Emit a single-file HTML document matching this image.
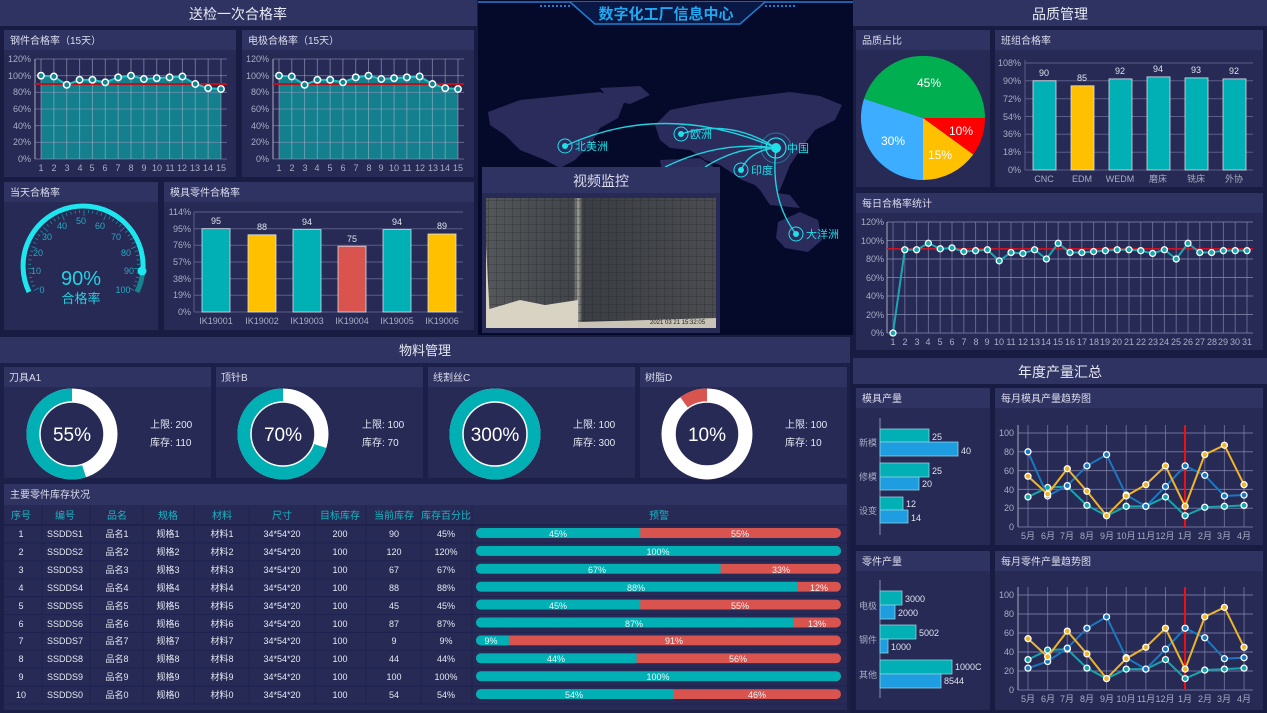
<!DOCTYPE html>
<html><head><meta charset="utf-8"><style>
html,body{margin:0;padding:0;background:#181b42;}
svg{display:block;font-family:"Liberation Sans","Noto Sans CJK SC",sans-serif;}
</style></head><body>
<svg id="s" width="1267" height="713" viewBox="0 0 1267 713" xmlns="http://www.w3.org/2000/svg">
<rect width="1267" height="713" fill="#181b42"/>
<rect x="478" y="0" width="375" height="335" fill="#060a2a"/>
<g fill="#2b2b5c">
<path d="M488,112 L520,100 L560,96 L600,92 L625,100 L618,118 L600,128 L590,145 L575,160 L560,168 L545,160 L520,150 L505,135 L490,125 Z"/>
<path d="M600,88 L640,86 L650,95 L630,104 L610,100 Z"/>
<path d="M655,125 L670,110 L700,104 L740,98 L790,92 L820,96 L842,105 L835,120 L815,130 L800,150 L790,165 L780,190 L770,200 L755,185 L742,180 L735,175 L720,165 L705,160 L690,150 L670,148 L660,140 Z"/>
<path d="M660,160 L700,158 L718,170 L712,200 L700,225 L688,235 L678,215 L665,190 Z"/>
<path d="M778,222 L800,212 L818,220 L822,240 L808,252 L785,248 L776,238 Z"/>
<path d="M760,190 L790,195 L800,208 L770,205 Z"/>
</g>
<g fill="none" stroke="#1fd4e0" stroke-width="1.4">
<path d="M565,146 Q665,100 776,148"/>
<path d="M681,134 Q730,118 776,148"/>
<path d="M665,167 Q720,140 776,148"/>
<path d="M705,167 Q740,145 776,148"/>
<path d="M741,170 Q750,150 776,148"/>
<path d="M796,234 Q770,200 776,148"/>
</g>
<g fill="#1fe0e8">
<circle cx="776" cy="148" r="5"/><circle cx="776" cy="148" r="10" fill="none" stroke="#1fe0e8" stroke-width="1.2"/><circle cx="776" cy="148" r="15" fill="none" stroke="#1fe0e8" stroke-opacity=".4"/>
<circle cx="565" cy="146" r="3"/><circle cx="565" cy="146" r="7" fill="none" stroke="#1fe0e8"/>
<circle cx="681" cy="134" r="3"/><circle cx="681" cy="134" r="7" fill="none" stroke="#1fe0e8"/>
<circle cx="741" cy="170" r="3"/><circle cx="741" cy="170" r="7" fill="none" stroke="#1fe0e8"/>
<circle cx="796" cy="234" r="3"/><circle cx="796" cy="234" r="7" fill="none" stroke="#1fe0e8"/>
</g>
<g fill="#1fe0e8" font-size="11">
<text x="575" y="150">北美洲</text><text x="690" y="138">欧洲</text><text x="787" y="152">中国</text><text x="751" y="174">印度</text><text x="806" y="238">大洋洲</text>
</g>
<path d="M478,2 L853,2" stroke="#1e5fa8" stroke-width="2"/>
<path d="M570,2 L595,24 L740,24 L765,2" fill="#0a1845" stroke="#1e7fd0" stroke-width="1.5"/>
<text x="666" y="19" text-anchor="middle" fill="#21a8f0" font-size="15" font-weight="bold">数字化工厂信息中心</text>
<path d="M540,6 L570,6 M765,6 L795,6" stroke="#1e7fd0" stroke-width="2" stroke-dasharray="2,2"/>
<rect x="482" y="167" width="238" height="166" fill="#262a55"/>
<rect x="482" y="167" width="238" height="26" fill="#2f3362"/>
<text x="601" y="186" text-anchor="middle" fill="#dde" font-size="14">视频监控</text>
<defs>
<linearGradient id="vg" x1="0" x2="1"><stop offset="0" stop-color="#55585a"/><stop offset=".38" stop-color="#414449"/><stop offset=".4" stop-color="#9a9b95"/><stop offset=".42" stop-color="#3a3d43"/><stop offset="1" stop-color="#4a4c50"/></linearGradient>
<pattern id="gp" width="8" height="8" patternUnits="userSpaceOnUse"><path d="M0,0H8M0,0V8" stroke="#25272b" stroke-width="1" fill="none"/></pattern>
</defs>
<rect x="486" y="198" width="230" height="130" fill="url(#vg)"/>
<rect x="486" y="198" width="230" height="130" fill="url(#gp)" opacity=".6"/>
<path d="M486,245 L490,320 L486,328 Z" fill="#d8d3c2"/>
<path d="M486,310 L520,300 L545,305 L578,300 L578,328 L486,328 Z" fill="#d8d3c2"/>
<path d="M578,322 L716,318 L716,328 L578,328Z" fill="#c9c4b5"/>
<text x="650" y="324" fill="#222" font-size="6">2021 03 21 15:32:05</text>

<rect x="0" y="0" width="477" height="26" fill="#2f3362"/>
<text x="238" y="19" text-anchor="middle" fill="#e6e8f2" font-size="14">送检一次合格率</text>
<rect x="4" y="30" width="232" height="147" fill="#262a55"/><rect x="4" y="30" width="232" height="20" fill="#2f3362"/>
<text x="10" y="44" fill="#dde" font-size="10">钢件合格率（15天）</text>
<rect x="242" y="30" width="232" height="147" fill="#262a55"/><rect x="242" y="30" width="232" height="20" fill="#2f3362"/>
<text x="248" y="44" fill="#dde" font-size="10">电极合格率（15天）</text>
<g id="lc1"></g><g id="lc2"></g>
<g fill="#a9adc4" font-size="9" text-anchor="end">
<text x="31" y="62">120%</text><text x="31" y="79">100%</text><text x="31" y="95">80%</text><text x="31" y="112">60%</text><text x="31" y="129">40%</text><text x="31" y="145">20%</text><text x="31" y="162">0%</text>
<text x="269" y="62">120%</text><text x="269" y="79">100%</text><text x="269" y="95">80%</text><text x="269" y="112">60%</text><text x="269" y="129">40%</text><text x="269" y="145">20%</text><text x="269" y="162">0%</text>
</g>
<g fill="#a9adc4" font-size="9" text-anchor="middle">
<text x="41" y="171">1</text><text x="54" y="171">2</text><text x="67" y="171">3</text><text x="80" y="171">4</text><text x="92" y="171">5</text><text x="105" y="171">6</text><text x="118" y="171">7</text><text x="131" y="171">8</text><text x="144" y="171">9</text><text x="157" y="171">10</text><text x="170" y="171">11</text><text x="182" y="171">12</text><text x="195" y="171">13</text><text x="208" y="171">14</text><text x="221" y="171">15</text>
<text x="279" y="171">1</text><text x="292" y="171">2</text><text x="305" y="171">3</text><text x="317" y="171">4</text><text x="330" y="171">5</text><text x="343" y="171">6</text><text x="356" y="171">7</text><text x="369" y="171">8</text><text x="381" y="171">9</text><text x="394" y="171">10</text><text x="407" y="171">11</text><text x="420" y="171">12</text><text x="433" y="171">13</text><text x="445" y="171">14</text><text x="458" y="171">15</text>
</g>
<rect x="4" y="182" width="154" height="148" fill="#262a55"/><rect x="4" y="182" width="154" height="20" fill="#2f3362"/>
<text x="10" y="196" fill="#dde" font-size="10">当天合格率</text>
<path d="M29,292 A60,60 0 1 1 143,269" fill="none" stroke="#1ee6ef" stroke-width="5"/>
<path d="M143,269 A60,60 0 0 1 137,292" fill="none" stroke="#14858f" stroke-width="5"/>
<g id="gt"></g>
<circle cx="142" cy="271" r="4.5" fill="#1ee6ef"/>
<g fill="#2aa8c0" font-size="9" text-anchor="middle">
<text x="42" y="293">0</text><text x="36" y="274">10</text><text x="38" y="256">20</text><text x="47" y="240">30</text><text x="62" y="229">40</text><text x="81" y="224">50</text><text x="100" y="229">60</text><text x="116" y="240">70</text><text x="126" y="256">80</text><text x="129" y="274">90</text><text x="123" y="293">100</text>
</g>
<text x="81" y="285" text-anchor="middle" fill="#25d0e0" font-size="20">90%</text>
<text x="81" y="303" text-anchor="middle" fill="#25d0e0" font-size="13">合格率</text>
<rect x="164" y="182" width="310" height="148" fill="#262a55"/><rect x="164" y="182" width="310" height="20" fill="#2f3362"/>
<text x="170" y="196" fill="#dde" font-size="10">模具零件合格率</text>
<g stroke="#5a5e86" stroke-width="1">
<path d="M194,212H463M194,228.7H463M194,245.3H463M194,262H463M194,278.7H463M194,295.3H463M194,312H463M194,212V312"/>
</g>
<g stroke="#d8e0ea" stroke-width=".8">
<rect x="202" y="228.7" width="28" height="83.3" fill="#00b0b4"/>
<rect x="248" y="234.8" width="28" height="77.2" fill="#ffc000"/>
<rect x="293" y="229.6" width="28" height="82.4" fill="#00b0b4"/>
<rect x="338" y="246.2" width="28" height="65.8" fill="#d9534f"/>
<rect x="383" y="229.6" width="28" height="82.4" fill="#00b0b4"/>
<rect x="428" y="234" width="28" height="78" fill="#ffc000"/>
</g>
<g fill="#e0e2ee" font-size="9" text-anchor="middle">
<text x="216" y="224">95</text><text x="262" y="230">88</text><text x="307" y="225">94</text><text x="352" y="242">75</text><text x="397" y="225">94</text><text x="442" y="229">89</text>
</g>
<g fill="#a9adc4" font-size="9">
<g text-anchor="end"><text x="191" y="215">114%</text><text x="191" y="232">95%</text><text x="191" y="248">76%</text><text x="191" y="265">57%</text><text x="191" y="282">38%</text><text x="191" y="298">19%</text><text x="191" y="315">0%</text></g>
<g text-anchor="middle"><text x="216" y="324">IK19001</text><text x="262" y="324">IK19002</text><text x="307" y="324">IK19003</text><text x="352" y="324">IK19004</text><text x="397" y="324">IK19005</text><text x="442" y="324">IK19006</text></g>
</g>

<rect x="853" y="0" width="414" height="26" fill="#2f3362"/>
<text x="1060" y="19" text-anchor="middle" fill="#e6e8f2" font-size="14">品质管理</text>
<rect x="856" y="30" width="134" height="157" fill="#262a55"/><rect x="856" y="30" width="134" height="20" fill="#2f3362"/>
<text x="862" y="44" fill="#dde" font-size="10">品质占比</text>
<path d="M923,118 L985,118 A62,62 0 0 1 973.2,154.5 Z" fill="#ff0000"/>
<path d="M923,118 L973.2,154.5 A62,62 0 0 1 923,180 Z" fill="#ffc000"/>
<path d="M923,118 L923,180 A62,62 0 0 1 864,98.8 Z" fill="#3daeff"/>
<path d="M923,118 L864,98.8 A62,62 0 0 1 985,118 Z" fill="#00b050"/>
<g fill="#fff" font-size="12" text-anchor="middle"><text x="929" y="87">45%</text><text x="893" y="145">30%</text><text x="940" y="159">15%</text><text x="961" y="135">10%</text></g>
<rect x="995" y="30" width="268" height="157" fill="#262a55"/><rect x="995" y="30" width="268" height="20" fill="#2f3362"/>
<text x="1001" y="44" fill="#dde" font-size="10">班组合格率</text>
<g stroke="#5a5e86"><path d="M1025,63H1253M1025,80.8H1253M1025,98.7H1253M1025,116.5H1253M1025,134.3H1253M1025,152.2H1253M1025,170H1253M1025,60V170"/></g>
<g stroke="#d8e0ea" stroke-width=".8">
<rect x="1033" y="80.8" width="23" height="89.2" fill="#00b0b4"/>
<rect x="1071" y="85.8" width="23" height="84.2" fill="#ffc000"/>
<rect x="1109" y="78.9" width="23" height="91.1" fill="#00b0b4"/>
<rect x="1147" y="76.9" width="23" height="93.1" fill="#00b0b4"/>
<rect x="1185" y="77.9" width="23" height="92.1" fill="#00b0b4"/>
<rect x="1223" y="78.9" width="23" height="91.1" fill="#00b0b4"/>
</g>
<g fill="#e0e2ee" font-size="9" text-anchor="middle"><text x="1044" y="76">90</text><text x="1082" y="81">85</text><text x="1120" y="74">92</text><text x="1158" y="72">94</text><text x="1196" y="73">93</text><text x="1234" y="74">92</text></g>
<g fill="#a9adc4" font-size="9">
<g text-anchor="end"><text x="1021" y="66">108%</text><text x="1021" y="84">90%</text><text x="1021" y="102">72%</text><text x="1021" y="120">54%</text><text x="1021" y="137">36%</text><text x="1021" y="155">18%</text><text x="1021" y="173">0%</text></g>
<g text-anchor="middle"><text x="1044" y="182">CNC</text><text x="1082" y="182">EDM</text><text x="1120" y="182">WEDM</text><text x="1158" y="182">磨床</text><text x="1196" y="182">铣床</text><text x="1234" y="182">外协</text></g>
</g>
<rect x="856" y="193" width="407" height="157" fill="#262a55"/><rect x="856" y="193" width="407" height="20" fill="#2f3362"/>
<text x="862" y="207" fill="#dde" font-size="10">每日合格率统计</text>
<g id="daily"></g>
<g fill="#a9adc4" font-size="9" text-anchor="end"><text x="884" y="225">120%</text><text x="884" y="244">100%</text><text x="884" y="262">80%</text><text x="884" y="281">60%</text><text x="884" y="299">40%</text><text x="884" y="318">20%</text><text x="884" y="336">0%</text></g>
<g fill="#a9adc4" font-size="9" text-anchor="middle">
<text x="893" y="345">1</text><text x="905" y="345">2</text><text x="917" y="345">3</text><text x="928" y="345">4</text><text x="940" y="345">5</text><text x="952" y="345">6</text><text x="964" y="345">7</text><text x="976" y="345">8</text><text x="987" y="345">9</text><text x="999" y="345">10</text><text x="1011" y="345">11</text><text x="1023" y="345">12</text><text x="1035" y="345">13</text><text x="1046" y="345">14</text><text x="1058" y="345">15</text><text x="1070" y="345">16</text><text x="1082" y="345">17</text><text x="1094" y="345">18</text><text x="1105" y="345">19</text><text x="1117" y="345">20</text><text x="1129" y="345">21</text><text x="1141" y="345">22</text><text x="1153" y="345">23</text><text x="1164" y="345">24</text><text x="1176" y="345">25</text><text x="1188" y="345">26</text><text x="1200" y="345">27</text><text x="1212" y="345">28</text><text x="1223" y="345">29</text><text x="1235" y="345">30</text><text x="1247" y="345">31</text>
</g>

<rect x="853" y="358" width="414" height="26" fill="#2f3362"/>
<text x="1060" y="377" text-anchor="middle" fill="#e6e8f2" font-size="14">年度产量汇总</text>
<rect x="856" y="388" width="134" height="157" fill="#262a55"/><rect x="856" y="388" width="134" height="20" fill="#2f3362"/>
<text x="862" y="402" fill="#dde" font-size="10">模具产量</text>
<rect x="856" y="551" width="134" height="159" fill="#262a55"/><rect x="856" y="551" width="134" height="20" fill="#2f3362"/>
<text x="862" y="565" fill="#dde" font-size="10">零件产量</text>
<path d="M880,418V535M880,580V698" stroke="#8a8eb0"/>
<g stroke="#8ad0e0" stroke-width=".8">
<rect x="880" y="429" width="49" height="13" fill="#00b0b4"/><rect x="880" y="442" width="78" height="14" fill="#1e9ee0"/>
<rect x="880" y="463" width="49" height="14" fill="#00b0b4"/><rect x="880" y="477" width="39" height="13" fill="#1e9ee0"/>
<rect x="880" y="497" width="23" height="13" fill="#00b0b4"/><rect x="880" y="510" width="28" height="13" fill="#1e9ee0"/>
<rect x="880" y="591" width="22" height="14" fill="#00b0b4"/><rect x="880" y="605" width="15" height="14" fill="#1e9ee0"/>
<rect x="880" y="625" width="36" height="14" fill="#00b0b4"/><rect x="880" y="639" width="8" height="14" fill="#1e9ee0"/>
<rect x="880" y="660" width="72" height="14" fill="#00b0b4"/><rect x="880" y="674" width="61" height="14" fill="#1e9ee0"/>
</g>
<g fill="#e0e2ee" font-size="9">
<text x="932" y="440">25</text><text x="961" y="454">40</text><text x="932" y="474">25</text><text x="922" y="487">20</text><text x="906" y="507">12</text><text x="911" y="521">14</text>
<text x="905" y="602">3000</text><text x="898" y="616">2000</text><text x="919" y="636">5002</text><text x="891" y="650">1000</text><text x="955" y="670">1000C</text><text x="944" y="684">8544</text>
</g>
<g fill="#a9adc4" font-size="9" text-anchor="end"><text x="877" y="446">新模</text><text x="877" y="480">修模</text><text x="877" y="514">设变</text><text x="877" y="609">电极</text><text x="877" y="643">钢件</text><text x="877" y="678">其他</text></g>
<rect x="995" y="388" width="268" height="157" fill="#262a55"/><rect x="995" y="388" width="268" height="20" fill="#2f3362"/>
<text x="1001" y="402" fill="#dde" font-size="10">每月模具产量趋势图</text>
<rect x="995" y="551" width="268" height="159" fill="#262a55"/><rect x="995" y="551" width="268" height="20" fill="#2f3362"/>
<text x="1001" y="565" fill="#dde" font-size="10">每月零件产量趋势图</text>
<g id="tr1"></g><g id="tr2"></g>
<g fill="#a9adc4" font-size="9" text-anchor="end">
<text x="1014" y="436">100</text><text x="1014" y="455">80</text><text x="1014" y="474">60</text><text x="1014" y="493">40</text><text x="1014" y="511">20</text><text x="1014" y="530">0</text>
<text x="1014" y="598">100</text><text x="1014" y="617">80</text><text x="1014" y="636">60</text><text x="1014" y="655">40</text><text x="1014" y="674">20</text><text x="1014" y="693">0</text>
</g>
<g fill="#a9adc4" font-size="9" text-anchor="middle">
<text x="1028" y="539">5月</text><text x="1048" y="539">6月</text><text x="1067" y="539">7月</text><text x="1087" y="539">8月</text><text x="1107" y="539">9月</text><text x="1126" y="539">10月</text><text x="1146" y="539">11月</text><text x="1165" y="539">12月</text><text x="1185" y="539">1月</text><text x="1205" y="539">2月</text><text x="1224" y="539">3月</text><text x="1244" y="539">4月</text>
<text x="1028" y="702">5月</text><text x="1048" y="702">6月</text><text x="1067" y="702">7月</text><text x="1087" y="702">8月</text><text x="1107" y="702">9月</text><text x="1126" y="702">10月</text><text x="1146" y="702">11月</text><text x="1165" y="702">12月</text><text x="1185" y="702">1月</text><text x="1205" y="702">2月</text><text x="1224" y="702">3月</text><text x="1244" y="702">4月</text>
</g>

<rect x="0" y="337" width="850" height="376" fill="#1c1f48"/>
<rect x="0" y="337" width="850" height="26" fill="#2f3362"/>
<text x="425" y="355" text-anchor="middle" fill="#e6e8f2" font-size="13">物料管理</text>
<g fill="#262a55"><rect x="4" y="367" width="207" height="111"/><rect x="216" y="367" width="207" height="111"/><rect x="428" y="367" width="207" height="111"/><rect x="640" y="367" width="207" height="111"/></g>
<g fill="#2f3362"><rect x="4" y="367" width="207" height="20"/><rect x="216" y="367" width="207" height="20"/><rect x="428" y="367" width="207" height="20"/><rect x="640" y="367" width="207" height="20"/></g>
<g fill="#dde" font-size="10"><text x="9" y="381">刀具A1</text><text x="221" y="381">顶针B</text><text x="433" y="381">线割丝C</text><text x="645" y="381">树脂D</text></g>
<g id="donuts"></g>
<g fill="#fff" font-size="19" text-anchor="middle"><text x="72" y="441">55%</text><text x="283" y="441">70%</text><text x="495" y="441">300%</text><text x="707" y="441">10%</text></g>
<g fill="#e6e8f2" font-size="10">
<text x="150" y="428">上限: 200</text><text x="150" y="446">库存: 110</text>
<text x="362" y="428">上限: 100</text><text x="362" y="446">库存: 70</text>
<text x="573" y="428">上限: 100</text><text x="573" y="446">库存: 300</text>
<text x="785" y="428">上限: 100</text><text x="785" y="446">库存: 10</text>
</g>
<rect x="4" y="484" width="843" height="226" fill="#262a55"/><rect x="4" y="484" width="843" height="21" fill="#2f3362"/>
<text x="10" y="498" fill="#dde" font-size="10">主要零件库存状况</text>
<g fill="#19b6c2" font-size="10" text-anchor="middle">
<text x="21" y="519">序号</text><text x="65" y="519">编号</text><text x="117" y="519">品名</text><text x="168" y="519">规格</text><text x="222" y="519">材料</text><text x="282" y="519">尺寸</text><text x="340" y="519">目标库存</text><text x="394" y="519">当前库存</text><text x="446" y="519">库存百分比</text><text x="659" y="519">预警</text>
</g>
<g id="tbl"></g>
<g fill="#e6e8f2" font-size="9" text-anchor="middle">
<text x="21" y="537">1</text><text x="65" y="537">SSDDS1</text><text x="117" y="537">品名1</text><text x="168" y="537">规格1</text><text x="222" y="537">材料1</text><text x="282" y="537">34*54*20</text><text x="340" y="537">200</text><text x="394" y="537">90</text><text x="446" y="537">45%</text>
<text x="21" y="555">2</text><text x="65" y="555">SSDDS2</text><text x="117" y="555">品名2</text><text x="168" y="555">规格2</text><text x="222" y="555">材料2</text><text x="282" y="555">34*54*20</text><text x="340" y="555">100</text><text x="394" y="555">120</text><text x="446" y="555">120%</text>
<text x="21" y="573">3</text><text x="65" y="573">SSDDS3</text><text x="117" y="573">品名3</text><text x="168" y="573">规格3</text><text x="222" y="573">材料3</text><text x="282" y="573">34*54*20</text><text x="340" y="573">100</text><text x="394" y="573">67</text><text x="446" y="573">67%</text>
<text x="21" y="591">4</text><text x="65" y="591">SSDDS4</text><text x="117" y="591">品名4</text><text x="168" y="591">规格4</text><text x="222" y="591">材料4</text><text x="282" y="591">34*54*20</text><text x="340" y="591">100</text><text x="394" y="591">88</text><text x="446" y="591">88%</text>
<text x="21" y="609">5</text><text x="65" y="609">SSDDS5</text><text x="117" y="609">品名5</text><text x="168" y="609">规格5</text><text x="222" y="609">材料5</text><text x="282" y="609">34*54*20</text><text x="340" y="609">100</text><text x="394" y="609">45</text><text x="446" y="609">45%</text>
<text x="21" y="627">6</text><text x="65" y="627">SSDDS6</text><text x="117" y="627">品名6</text><text x="168" y="627">规格6</text><text x="222" y="627">材料6</text><text x="282" y="627">34*54*20</text><text x="340" y="627">100</text><text x="394" y="627">87</text><text x="446" y="627">87%</text>
<text x="21" y="644">7</text><text x="65" y="644">SSDDS7</text><text x="117" y="644">品名7</text><text x="168" y="644">规格7</text><text x="222" y="644">材料7</text><text x="282" y="644">34*54*20</text><text x="340" y="644">100</text><text x="394" y="644">9</text><text x="446" y="644">9%</text>
<text x="21" y="662">8</text><text x="65" y="662">SSDDS8</text><text x="117" y="662">品名8</text><text x="168" y="662">规格8</text><text x="222" y="662">材料8</text><text x="282" y="662">34*54*20</text><text x="340" y="662">100</text><text x="394" y="662">44</text><text x="446" y="662">44%</text>
<text x="21" y="680">9</text><text x="65" y="680">SSDDS9</text><text x="117" y="680">品名9</text><text x="168" y="680">规格9</text><text x="222" y="680">材料9</text><text x="282" y="680">34*54*20</text><text x="340" y="680">100</text><text x="394" y="680">100</text><text x="446" y="680">100%</text>
<text x="21" y="698">10</text><text x="65" y="698">SSDDS0</text><text x="117" y="698">品名0</text><text x="168" y="698">规格0</text><text x="222" y="698">材料0</text><text x="282" y="698">34*54*20</text><text x="340" y="698">100</text><text x="394" y="698">54</text><text x="446" y="698">54%</text>
</g>
<g fill="#e6f6f8" font-size="9" text-anchor="middle">
<text x="558" y="537">45%</text><text x="740" y="537">55%</text>
<text x="658" y="555">100%</text>
<text x="597" y="573">67%</text><text x="781" y="573">33%</text>
<text x="636" y="591">88%</text><text x="819" y="591">12%</text>
<text x="558" y="609">45%</text><text x="740" y="609">55%</text>
<text x="634" y="627">87%</text><text x="817" y="627">13%</text>
<text x="491" y="644">9%</text><text x="674" y="644">91%</text>
<text x="556" y="662">44%</text><text x="738" y="662">56%</text>
<text x="658" y="680">100%</text>
<text x="574" y="698">54%</text><text x="757" y="698">46%</text>
</g>
</svg>
<script>
var NS="http://www.w3.org/2000/svg";
function E(p,t,a){var e=document.createElementNS(NS,t);for(var k in a)e.setAttribute(k,a[k]);p.appendChild(e);return e;}
function $(id){return document.getElementById(id);}
function lc(g,x0,x1,vals){
  var n=vals.length,st=(x1-x0)/(n-1),y0=159,k=100/120;
  var xs=vals.map(function(_,i){return x0+i*st;}),ys=vals.map(function(v){return y0-v*k;});
  var d="M"+xs[0]+","+y0;xs.forEach(function(x,i){d+="L"+x+","+ys[i];});d+="L"+xs[n-1]+","+y0+"Z";
  E(g,"path",{d:d,fill:"#138590",opacity:"0.95"});
  for(var j=0;j<=6;j++)E(g,"line",{x1:x0-6,x2:x1+6,y1:y0-j*100/6,y2:y0-j*100/6,stroke:"#8e93b8","stroke-opacity":".6"});
  xs.forEach(function(x){E(g,"line",{x1:x,x2:x,y1:59,y2:159,stroke:"#b6bad4","stroke-opacity":".5"});});
  E(g,"line",{x1:x0-6,x2:x0-6,y1:59,y2:159,stroke:"#aab"});
  E(g,"line",{x1:x0-6,x2:x1+6,y1:84,y2:84,stroke:"#c0101a","stroke-width":"2"});
  var pd="";xs.forEach(function(x,i){pd+=(i?"L":"M")+x+","+ys[i];});
  E(g,"path",{d:pd,fill:"none",stroke:"#20c4c8","stroke-width":"2"});
  xs.forEach(function(x,i){E(g,"circle",{cx:x,cy:ys[i],r:3.2,fill:"#138590",stroke:"#fff","stroke-width":"1.5"});});
}
var v15=[100,99,89,95,95,92,98,100,96,97,98,99,90,85,84];
lc($("lc1"),41,221,v15);lc($("lc2"),279,458,v15);
(function(){
 var g=$("gt"),cx=84,cy=266;
 for(var i=0;i<=50;i++){var a=(154+i*232/50)*Math.PI/180,r1=i%5==0?50:53,r2=56;
  E(g,"line",{x1:cx+r1*Math.cos(a),y1:cy+r1*Math.sin(a),x2:cx+r2*Math.cos(a),y2:cy+r2*Math.sin(a),stroke:"#1d8fa6","stroke-width":"0.8"});}
})();
(function(){
 var g=$("daily"),vals=[0,90,90,97,91,92,88,89,90,78,87,86,90,80,97,87,87,88,89,90,90,89,86,90,80,97,87,87,89,89,89];
 var x0=893,st=11.8,y0=333,k=111/120;
 for(var j=0;j<=6;j++)E(g,"line",{x1:887,x2:1253,y1:y0-j*18.5,y2:y0-j*18.5,stroke:"#8e93b8","stroke-opacity":".7"});
 for(var i=0;i<31;i++)E(g,"line",{x1:x0+i*st,x2:x0+i*st,y1:222,y2:333,stroke:"#8e93b8","stroke-opacity":".6"});
 E(g,"line",{x1:887,x2:887,y1:222,y2:333,stroke:"#aab"});
 E(g,"line",{x1:887,x2:1253,y1:y0-91*k,y2:y0-91*k,stroke:"#e01020","stroke-width":"1.5"});
 var d="";vals.forEach(function(v,i){d+=(i?"L":"M")+(x0+i*st)+","+(y0-v*k);});
 E(g,"path",{d:d,fill:"none",stroke:"#1aa8b0","stroke-width":"2"});
 vals.forEach(function(v,i){E(g,"circle",{cx:x0+i*st,cy:y0-v*k,r:3,fill:"#1aa8b0",stroke:"#fff","stroke-width":"1.3"});});
})();
function tr(g,yTop,yBot,series){
 var x0=1028,st=19.64,k=(yBot-yTop)/100;
 for(var j=0;j<=5;j++)E(g,"line",{x1:1018,x2:1253,y1:yBot-j*20*k,y2:yBot-j*20*k,stroke:"#8e93b8","stroke-opacity":".7"});
 for(var i=0;i<12;i++)E(g,"line",{x1:x0+i*st,x2:x0+i*st,y1:yTop-8,y2:yBot,stroke:"#8e93b8","stroke-opacity":".6"});
 E(g,"line",{x1:1018,x2:1018,y1:yTop-8,y2:yBot,stroke:"#aab"});
 E(g,"line",{x1:1185,x2:1185,y1:yTop-8,y2:yBot,stroke:"#ee1010","stroke-width":"2"});
 series.forEach(function(s){
  var d="";s.v.forEach(function(v,i){d+=(i?"L":"M")+(x0+i*st)+","+(yBot-v*k);});
  E(g,"path",{d:d,fill:"none",stroke:s.c,"stroke-width":"2"});
  s.v.forEach(function(v,i){E(g,"circle",{cx:x0+i*st,cy:yBot-v*k,r:3,fill:s.c,stroke:"#fff","stroke-width":"1.3"});});
 });
}
var Y=[54,35,62,38,12,33,45,65,22,77,87,45],T=[32,42,43,23,12,22,22,32,12,21,22,23];
tr($("tr1"),433,527,[{c:"#16a5ad",v:T},{c:"#1a78c2",v:[80,33,44,65,77,34,22,43,65,55,33,34]},{c:"#f0b428",v:Y}]);
tr($("tr2"),595,690,[{c:"#16a5ad",v:T},{c:"#1a78c2",v:[23,30,44,65,77,34,22,43,65,55,33,34]},{c:"#f0b428",v:Y}]);
(function(){
 var g=$("donuts"),cs=[[72,55,"#00b0b4"],[283,70,"#00b0b4"],[495,100,"#00b0b4"],[707,10,"#d9534f"]];
 cs.forEach(function(c){
  var cx=c[0],cy=434,r=39,p=c[1]/100;
  E(g,"circle",{cx:cx,cy:cy,r:r,fill:"none",stroke:"#fff","stroke-width":"13"});
  if(p>=1){E(g,"circle",{cx:cx,cy:cy,r:r,fill:"none",stroke:c[2],"stroke-width":"13"});}
  else{var a=-Math.PI/2-p*2*Math.PI,ex=cx+r*Math.cos(a),ey=cy+r*Math.sin(a);
   E(g,"path",{d:"M"+cx+","+(cy-r)+"A"+r+","+r+" 0 "+(p>.5?1:0)+" 0 "+ex+","+ey,fill:"none",stroke:c[2],"stroke-width":"13"});}
  E(g,"circle",{cx:cx,cy:cy,r:32,fill:"none",stroke:"#fff","stroke-width":"1.5"});
 });
})();
(function(){
 var g=$("tbl");
 E(g,"line",{x1:4,x2:847,y1:525,y2:525,stroke:"#1c1f48","stroke-width":"1.5"});
 for(var i=0;i<10;i++){var y=525+i*17.9;E(g,"line",{x1:4,x2:847,y1:y+17.9,y2:y+17.9,stroke:"#1e2250"});}
 [42,90,143,194,249,315,366,421,472].forEach(function(x){E(g,"line",{x1:x,x2:x,y1:506,y2:705,stroke:"#1e2250"});});
 var p=[45,100,67,88,45,87,9,44,100,54];
 var defs=E(g,"defs",{});
 p.forEach(function(v,i){var y=528+i*17.9,x=476,w=365;
  var cp="cp"+i;var cl=E(defs,"clipPath",{id:cp});E(cl,"rect",{x:x,y:y,width:w,height:10,rx:5});
  E(g,"rect",{x:x,y:y,width:w,height:10,fill:"#d9534f","clip-path":"url(#"+cp+")"});
  E(g,"rect",{x:x,y:y,width:w*v/100,height:10,fill:"#00b0b4","clip-path":"url(#"+cp+")"});
 });
})();
</script>
</body></html>
